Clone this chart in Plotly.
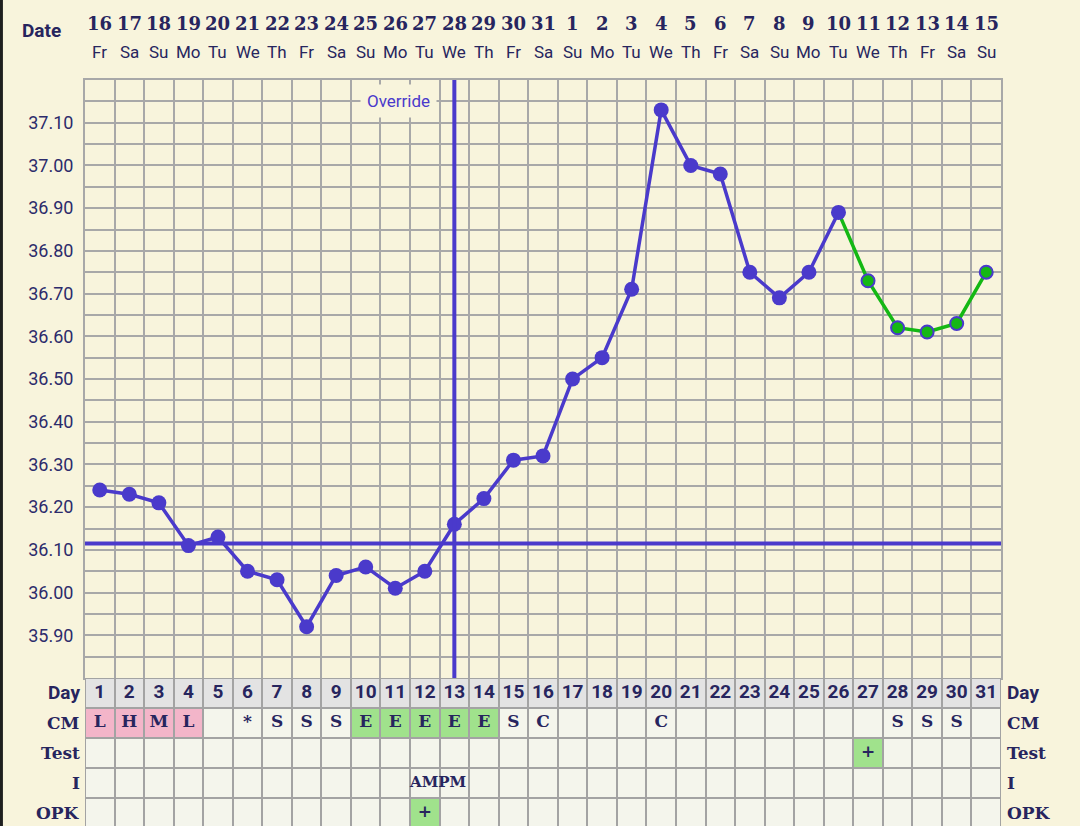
import plotly.graph_objects as go

# --- chart data ---
CYCLE_DAYS = list(range(1, 32))
DATE_NUMS = [16, 17, 18, 19, 20, 21, 22, 23, 24, 25, 26, 27, 28, 29, 30, 31,
             1, 2, 3, 4, 5, 6, 7, 8, 9, 10, 11, 12, 13, 14, 15]
WEEKDAYS = ['Fr', 'Sa', 'Su', 'Mo', 'Tu', 'We', 'Th'] * 5
WEEKDAYS = WEEKDAYS[:31]

TEMPS = [36.24, 36.23, 36.21, 36.11, 36.13, 36.05, 36.03, 35.92, 36.04, 36.06,
         36.01, 36.05, 36.16, 36.22, 36.31, 36.32, 36.50, 36.55, 36.71, 37.13,
         37.00, 36.98, 36.75, 36.69, 36.75, 36.89, 36.73, 36.62, 36.61, 36.63,
         36.75]
LAST_BLUE_DAY = 26          # days after this are drawn green

COVERLINE = 36.115
OVERRIDE_DAY = 13

TEMP_TICKS = [35.9, 36.0, 36.1, 36.2, 36.3, 36.4, 36.5, 36.6, 36.7, 36.8,
              36.9, 37.0, 37.1]

CM = ['L', 'H', 'M', 'L', '', '*', 'S', 'S', 'S', 'E', 'E', 'E', 'E', 'E', 'S',
      'C', '', '', '', 'C', '', '', '', '', '', '', '', 'S', 'S', 'S', '']
TEST = [''] * 31
TEST[26] = '+'
INTER = [''] * 31
INTER[11] = 'AMPM'
OPK = [''] * 31
OPK[11] = '+'

ROW_NAMES = ['OPK', 'I', 'Test', 'CM', 'Day']   # bottom -> top

# --- colours ---
BG = '#f8f4dc'
GRID = '#a8a8a8'
BLUE = '#4a3acb'
GREEN = '#14b814'
INK = '#27255e'
CELL = '#f4f5ec'
DAYCELL = '#e3e3e3'
PINK = '#f3b5c9'
LGREEN = '#a0e28c'


def cell_code(v):
    if v in ('L', 'H', 'M'):
        return 2
    if v in ('E', '+'):
        return 3
    return 0


z = [
    [cell_code(v) for v in OPK],
    [0 for v in INTER],
    [cell_code(v) for v in TEST],
    [cell_code(v) for v in CM],
    [1 for d in CYCLE_DAYS],
]

fig = go.Figure()

# table grid background (shows through heatmap gaps)
fig.add_shape(type='rect', xref='x2', yref='y2', x0=0.45, x1=31.55, y0=-0.6, y1=4.55,
              fillcolor='#a3a3a3', line_width=0, layer='below')

fig.add_trace(go.Heatmap(
    x=CYCLE_DAYS, y=[0, 1, 2, 3, 4], z=z, xaxis='x2', yaxis='y2',
    zmin=0, zmax=3, showscale=False, xgap=2, ygap=2, hoverinfo='skip',
    colorscale=[[0, CELL], [0.25, CELL], [0.25, DAYCELL], [0.5, DAYCELL],
                [0.5, PINK], [0.75, PINK], [0.75, LGREEN], [1, LGREEN]],
))

# table text
fig.add_trace(go.Scatter(
    x=CYCLE_DAYS, y=[4] * 31, xaxis='x2', yaxis='y2', mode='text',
    text=[str(d) for d in CYCLE_DAYS], hoverinfo='skip',
    textfont=dict(family='Roboto', size=19, color=INK, weight='bold')))
slab = dict(family='DejaVu Serif', size=17, color=INK, weight='bold')
for row_y, vals in [(3, CM), (2, TEST), (1, INTER), (0, OPK)]:
    xs = [d for d, v in zip(CYCLE_DAYS, vals) if v]
    ts = [v for v in vals if v]
    if row_y == 1:
        xs = [x + 0.45 for x in xs]
    fig.add_trace(go.Scatter(x=xs, y=[row_y] * len(xs), xaxis='x2', yaxis='y2',
                             mode='text', text=ts, hoverinfo='skip',
                             textfont=dict(slab, size=15 if row_y == 1 else 17)))

# temperature lines
green_days = CYCLE_DAYS[LAST_BLUE_DAY - 1:]
green_temps = TEMPS[LAST_BLUE_DAY - 1:]
fig.add_trace(go.Scatter(x=green_days, y=green_temps, mode='lines',
                         line=dict(color=GREEN, width=3.5), hoverinfo='skip'))
fig.add_trace(go.Scatter(x=CYCLE_DAYS[:LAST_BLUE_DAY], y=TEMPS[:LAST_BLUE_DAY],
                         mode='lines+markers', line=dict(color=BLUE, width=3.5),
                         marker=dict(color=BLUE, size=15)))
fig.add_trace(go.Scatter(x=green_days[1:], y=green_temps[1:], mode='markers',
                         marker=dict(color=GREEN, size=13, line=dict(color=BLUE, width=2))))

fig.add_hline(y=COVERLINE, line=dict(color=BLUE, width=4))
fig.add_vline(x=OVERRIDE_DAY, line=dict(color=BLUE, width=4))
fig.add_annotation(x=OVERRIDE_DAY - 0.6, y=37.15, xref='x', yref='y', text='Override',
                   showarrow=False, xanchor='right', bgcolor=BG, borderpad=6,
                   font=dict(family='Roboto', size=17, color=BLUE))

# header: dates and weekdays
for d, num, wd in zip(CYCLE_DAYS, DATE_NUMS, WEEKDAYS):
    fig.add_annotation(x=d, y=1.0751, xref='x', yref='paper', text=str(num), showarrow=False,
                       xanchor='center', yanchor='middle',
                       font=dict(family='DejaVu Serif', size=18, color=INK, weight='bold'))
    fig.add_annotation(x=d, y=1.0375, xref='x', yref='paper', text=wd, showarrow=False,
                       xanchor='center', yanchor='middle',
                       font=dict(family='Roboto', size=17, color=INK))
fig.add_annotation(x=-0.047, y=1.067, xref='paper', yref='paper', text='Date', showarrow=False,
                   xanchor='center', yanchor='middle',
                   font=dict(family='Roboto', size=19, color=INK, weight='bold'))

# row labels both sides
for row_y, name in enumerate(ROW_NAMES):
    fam = 'Roboto' if name == 'Day' else 'DejaVu Serif'
    size = 19 if name == 'Day' else 17
    f = dict(family=fam, size=size, color=INK, weight='bold')
    fig.add_annotation(x=-0.003, y=row_y, xref='paper', yref='y2', text=name,
                       showarrow=False, xanchor='right', font=f)
    fig.add_annotation(x=1.004, y=row_y, xref='paper', yref='y2', text=name,
                       showarrow=False, xanchor='left', font=f)

# dark strip at the very left edge
fig.add_shape(type='rect', xref='paper', yref='paper', x0=-0.0928, x1=-0.0896, y0=0, y1=1.11,
              fillcolor='#1e1f1f', line_width=0)

ticktext = ['%.2f' % t for t in TEMP_TICKS]
tickfont = dict(family='Roboto', size=18, color='#2c2b6b')
ydom = [0.1984, 1]
yrange = [35.8, 37.2]

fig.update_layout(
    width=1080, height=826,
    margin=dict(l=85, r=79, t=80, b=0),
    paper_bgcolor=BG, plot_bgcolor=BG,
    showlegend=False,
    xaxis=dict(range=[0.5, 31.5], tickvals=[d + 0.5 for d in range(31)], showticklabels=False,
               showgrid=True, gridcolor=GRID, gridwidth=2, zeroline=False, anchor='y',
               showline=True, linecolor=GRID, linewidth=2, mirror=True, ticks=''),
    yaxis=dict(domain=ydom, range=yrange, tickvals=TEMP_TICKS, ticktext=ticktext,
               tickfont=tickfont, showgrid=True, gridcolor=GRID, gridwidth=2, zeroline=False,
               showline=True, linecolor=GRID, linewidth=2, mirror=True, ticks='',
               ticklabelstandoff=6,
               minor=dict(dtick=0.05, tick0=35.8, showgrid=True, gridcolor=GRID, gridwidth=2)),
    yaxis3=dict(domain=ydom, range=yrange, overlaying='y', side='right', anchor='x',
                tickvals=TEMP_TICKS, ticktext=ticktext, tickfont=tickfont, showgrid=False,
                zeroline=False, ticks='', ticklabelstandoff=6),
    xaxis2=dict(range=[0.5, 31.5], anchor='y2', visible=False),
    yaxis2=dict(domain=[0, ydom[0]], range=[-0.433, 4.5], anchor='x2', visible=False),
)

fig.write_html("out.html", config={'displayModeBar': False},
               post_script="document.body.style.margin='0';document.body.style.overflow='hidden';")
